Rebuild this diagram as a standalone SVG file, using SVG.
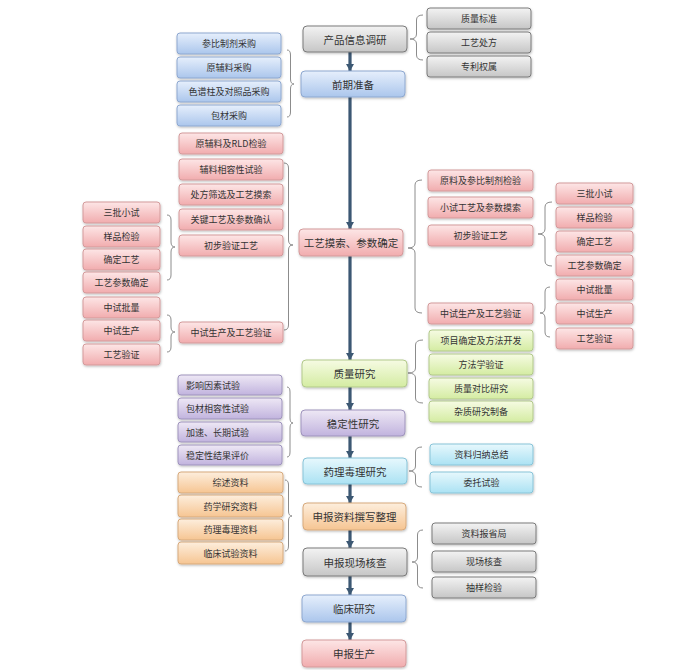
<svg xmlns="http://www.w3.org/2000/svg" width="678" height="670" viewBox="0 0 678 670">
<defs>
<linearGradient id="gGray" x1="0" y1="0" x2="0" y2="1"><stop offset="0" stop-color="#f3f3f3"/><stop offset="1" stop-color="#c6c6c6"/></linearGradient>
<linearGradient id="gBlue" x1="0" y1="0" x2="0" y2="1"><stop offset="0" stop-color="#e6effc"/><stop offset="1" stop-color="#abc6ec"/></linearGradient>
<linearGradient id="gPink" x1="0" y1="0" x2="0" y2="1"><stop offset="0" stop-color="#fde6e6"/><stop offset="1" stop-color="#f1acae"/></linearGradient>
<linearGradient id="gGreen" x1="0" y1="0" x2="0" y2="1"><stop offset="0" stop-color="#f6fbe3"/><stop offset="1" stop-color="#d4eca2"/></linearGradient>
<linearGradient id="gPurple" x1="0" y1="0" x2="0" y2="1"><stop offset="0" stop-color="#eee8f5"/><stop offset="1" stop-color="#c1b3de"/></linearGradient>
<linearGradient id="gCyan" x1="0" y1="0" x2="0" y2="1"><stop offset="0" stop-color="#e7f8fd"/><stop offset="1" stop-color="#abe2f3"/></linearGradient>
<linearGradient id="gOrange" x1="0" y1="0" x2="0" y2="1"><stop offset="0" stop-color="#fdeedd"/><stop offset="1" stop-color="#f6c592"/></linearGradient>
<marker id="ah" markerUnits="userSpaceOnUse" markerWidth="9" markerHeight="8" refX="7" refY="4" orient="auto"><path d="M0,0 L7,4 L0,8 z" fill="#3c5873"/></marker>
<filter id="sh" x="-10%" y="-20%" width="120%" height="150%"><feDropShadow dx="0.5" dy="1.2" stdDeviation="0.9" flood-color="#000" flood-opacity="0.25"/></filter>
</defs>
<style>
text{font-family:"Noto Sans CJK SC","Noto Sans",sans-serif;fill:#333;text-anchor:middle;dominant-baseline:central;font-size:9px}
.m text{font-size:10.5px}
.purple text{text-anchor:start}
.m.purple text{text-anchor:middle}
rect{filter:url(#sh)}
.gray rect{fill:url(#gGray);stroke:#7a7a7a;stroke-width:1}
.blue rect{fill:url(#gBlue);stroke:#8ea8d0;stroke-width:1}
.pink rect{fill:url(#gPink);stroke:#d39a9b;stroke-width:1}
.green rect{fill:url(#gGreen);stroke:#b2c98b;stroke-width:1}
.purple rect{fill:url(#gPurple);stroke:#9f94bd;stroke-width:1}
.cyan rect{fill:url(#gCyan);stroke:#88c4d8;stroke-width:1}
.orange rect{fill:url(#gOrange);stroke:#d7aa7d;stroke-width:1}
.brace{fill:none;stroke:#8c8c8c;stroke-width:1}
.arrow{stroke:#3c5873;stroke-width:3.2;fill:none;marker-end:url(#ah)}
</style>
<rect x="0" y="0" width="678" height="670" fill="#ffffff" style="filter:none"/>

<g id="connectors">
<line class="arrow" x1="350" y1="52" x2="350" y2="71"/>
<line class="arrow" x1="350" y1="97" x2="350" y2="229"/>
<line class="arrow" x1="350" y1="256" x2="350" y2="360"/>
<line class="arrow" x1="350" y1="387" x2="350" y2="410"/>
<line class="arrow" x1="350" y1="436" x2="350" y2="458"/>
<line class="arrow" x1="350" y1="484" x2="350" y2="503"/>
<line class="arrow" x1="350" y1="530" x2="350" y2="548"/>
<line class="arrow" x1="350" y1="576" x2="350" y2="595"/>
<line class="arrow" x1="350" y1="622" x2="350" y2="640"/>
<!-- braces -->
<path class="brace" d="M423,15 Q416.5,15 416.5,20 L416.5,34 Q416.5,39 410,39 Q416.5,39 416.5,44 L416.5,55 Q416.5,60 423,60"/>
<path class="brace" d="M287,50 Q290.5,50 290.5,55 L290.5,79 Q290.5,84 294,84 Q290.5,84 290.5,89 L290.5,112 Q290.5,117 287,117"/>
<path class="brace" d="M284,163 Q288.5,163 288.5,168 L288.5,240 Q288.5,245 293,245 Q288.5,245 288.5,250 L288.5,325 Q288.5,330 284,330"/>
<path class="brace" d="M167,215 Q171,215 171,220 L171,242 Q171,247 175,247 Q171,247 171,252 L171,275 Q171,280 167,280"/>
<path class="brace" d="M167,315 Q171,315 171,320 L171,327 Q171,332 175,332 Q171,332 171,337 L171,347 Q171,352 167,352"/>
<path class="brace" d="M422,180 Q415,180 415,185 L415,243 Q415,248 408,248 Q415,248 415,253 L415,308 Q415,313 422,313"/>
<path class="brace" d="M552,202 Q545,202 545,207 L545,229 Q545,234 538,234 Q545,234 545,239 L545,261 Q545,266 552,266"/>
<path class="brace" d="M550,287 Q545,287 545,292 L545,308 Q545,313 540,313 Q545,313 545,318 L545,332 Q545,337 550,337"/>
<path class="brace" d="M423,340 Q415.5,340 415.5,345 L415.5,368 Q415.5,373 408,373 Q415.5,373 415.5,378 L415.5,398 Q415.5,403 423,403"/>
<path class="brace" d="M287,387 Q290,387 290,392 L290,418 Q290,423 293,423 Q290,423 290,428 L290,452 Q290,457 287,457"/>
<path class="brace" d="M422,447 Q415.5,447 415.5,452 L415.5,466 Q415.5,471 409,471 Q415.5,471 415.5,476 L415.5,482 Q415.5,487 422,487"/>
<path class="brace" d="M285,480 Q288.5,480 288.5,485 L288.5,511 Q288.5,516 292,516 Q288.5,516 288.5,521 L288.5,546 Q288.5,551 285,551"/>
<path class="brace" d="M423,530 Q417.5,530 417.5,535 L417.5,557 Q417.5,562 412,562 Q417.5,562 417.5,567 L417.5,583 Q417.5,588 423,588"/>
</g>

<!-- main column -->
<g id="n-cpxxdy" class="m gray"><rect x="303" y="26" width="104" height="26" rx="4"/><text x="355" y="39">产品信息调研</text></g>
<g id="n-qqzb" class="m blue"><rect x="301" y="71" width="104" height="26" rx="4"/><text x="353" y="84">前期准备</text></g>
<g id="n-gymscsqd" class="m pink"><rect x="299" y="229" width="104" height="27" rx="4"/><text x="351" y="242.5">工艺摸索、参数确定</text></g>
<g id="n-zlyj" class="m green"><rect x="302" y="360" width="105" height="27" rx="4"/><text x="354.5" y="373.5">质量研究</text></g>
<g id="n-wdxyj" class="m purple"><rect x="301" y="410" width="104" height="26" rx="4"/><text x="353" y="423">稳定性研究</text></g>
<g id="n-yldlyj" class="m cyan"><rect x="303" y="458" width="104" height="26" rx="4"/><text x="355" y="471">药理毒理研究</text></g>
<g id="n-sbzlzxzl" class="m orange"><rect x="303" y="503" width="103" height="27" rx="4"/><text x="354.5" y="516.5">申报资料撰写整理</text></g>
<g id="n-sbxchc" class="m gray"><rect x="303" y="548" width="104" height="28" rx="4"/><text x="355" y="562">申报现场核查</text></g>
<g id="n-lcyj" class="m blue"><rect x="302" y="595" width="104" height="27" rx="4"/><text x="354" y="608.5">临床研究</text></g>
<g id="n-sbsc" class="m pink"><rect x="302" y="640" width="104" height="27" rx="4"/><text x="354" y="653.5">申报生产</text></g>

<!-- top right gray -->
<g id="n-zlbz" class="gray"><rect x="427" y="8" width="104" height="21" rx="3"/><text x="479" y="18.5">质量标准</text></g>
<g id="n-gycf" class="gray"><rect x="427" y="32" width="104" height="21" rx="3"/><text x="479" y="42.5">工艺处方</text></g>
<g id="n-zlqs" class="gray"><rect x="427" y="56" width="104" height="21" rx="3"/><text x="479" y="66.5">专利权属</text></g>

<!-- blue left -->
<g id="n-cbzjcg" class="blue"><rect x="177" y="33" width="104" height="21" rx="3"/><text x="229" y="43.5">参比制剂采购</text></g>
<g id="n-yflcg" class="blue"><rect x="177" y="57" width="104" height="21" rx="3"/><text x="229" y="67.5">原辅料采购</text></g>
<g id="n-spz" class="blue"><rect x="177" y="81" width="104" height="21" rx="3"/><text x="229" y="91.5">色谱柱及对照品采购</text></g>
<g id="n-bccg" class="blue"><rect x="177" y="105" width="104" height="21" rx="3"/><text x="229" y="115.5">包材采购</text></g>

<!-- pink middle -->
<g id="n-yflrld" class="pink"><rect x="179" y="133" width="104" height="21" rx="3"/><text x="231" y="143.5">原辅料及RLD检验</text></g>
<g id="n-flxrx" class="pink"><rect x="179" y="159" width="104" height="21" rx="3"/><text x="231" y="169.5">辅料相容性试验</text></g>
<g id="n-cfsx" class="pink"><rect x="179" y="184" width="104" height="21" rx="3"/><text x="231" y="194.5">处方筛选及工艺摸索</text></g>
<g id="n-gjgy" class="pink"><rect x="179" y="209" width="104" height="21" rx="3"/><text x="231" y="219.5">关键工艺及参数确认</text></g>
<g id="n-cbyzgy-l" class="pink"><rect x="179" y="235" width="104" height="21" rx="3"/><text x="231" y="245.5">初步验证工艺</text></g>
<g id="n-zssc-l" class="pink"><rect x="179" y="322" width="104" height="21" rx="3"/><text x="231" y="332.5">中试生产及工艺验证</text></g>

<!-- pink far left -->
<g id="n-sbxs-l" class="pink"><rect x="83" y="202" width="77" height="21" rx="3"/><text x="121.5" y="212.5">三批小试</text></g>
<g id="n-ypjy-l" class="pink"><rect x="83" y="226" width="77" height="21" rx="3"/><text x="121.5" y="236.5">样品检验</text></g>
<g id="n-qdgy-l" class="pink"><rect x="83" y="249" width="77" height="21" rx="3"/><text x="121.5" y="259.5">确定工艺</text></g>
<g id="n-gycsqd-l" class="pink"><rect x="83" y="272" width="77" height="21" rx="3"/><text x="121.5" y="282.5">工艺参数确定</text></g>
<g id="n-zspl-l" class="pink"><rect x="83" y="297" width="77" height="21" rx="3"/><text x="121.5" y="307.5">中试批量</text></g>
<g id="n-zsscb-l" class="pink"><rect x="83" y="320" width="77" height="21" rx="3"/><text x="121.5" y="330.5">中试生产</text></g>
<g id="n-gyyz-l" class="pink"><rect x="83" y="344" width="77" height="21" rx="3"/><text x="121.5" y="354.5">工艺验证</text></g>

<!-- pink right -->
<g id="n-ylcbjy" class="pink"><rect x="428" y="170" width="105" height="21" rx="3"/><text x="480.5" y="180.5">原料及参比制剂检验</text></g>
<g id="n-xsgy" class="pink"><rect x="428" y="197" width="105" height="21" rx="3"/><text x="480.5" y="207.5">小试工艺及参数摸索</text></g>
<g id="n-cbyzgy-r" class="pink"><rect x="428" y="225" width="105" height="21" rx="3"/><text x="480.5" y="235.5">初步验证工艺</text></g>
<g id="n-zssc-r" class="pink"><rect x="428" y="303" width="105" height="21" rx="3"/><text x="480.5" y="313.5">中试生产及工艺验证</text></g>

<!-- pink far right -->
<g id="n-sbxs-r" class="pink"><rect x="556" y="183" width="77" height="21" rx="3"/><text x="594.5" y="193.5">三批小试</text></g>
<g id="n-ypjy-r" class="pink"><rect x="556" y="207" width="77" height="21" rx="3"/><text x="594.5" y="217.5">样品检验</text></g>
<g id="n-qdgy-r" class="pink"><rect x="556" y="231" width="77" height="21" rx="3"/><text x="594.5" y="241.5">确定工艺</text></g>
<g id="n-gycsqd-r" class="pink"><rect x="556" y="255" width="77" height="21" rx="3"/><text x="594.5" y="265.5">工艺参数确定</text></g>
<g id="n-zspl-r" class="pink"><rect x="556" y="279" width="77" height="21" rx="3"/><text x="594.5" y="289.5">中试批量</text></g>
<g id="n-zsscb-r" class="pink"><rect x="556" y="303" width="77" height="21" rx="3"/><text x="594.5" y="313.5">中试生产</text></g>
<g id="n-gyyz-r" class="pink"><rect x="556" y="328" width="77" height="21" rx="3"/><text x="594.5" y="338.5">工艺验证</text></g>

<!-- green -->
<g id="n-xmqd" class="green"><rect x="429" y="330" width="104" height="21" rx="3"/><text x="481" y="340.5">项目确定及方法开发</text></g>
<g id="n-ffxyz" class="green"><rect x="429" y="354" width="104" height="21" rx="3"/><text x="481" y="364.5">方法学验证</text></g>
<g id="n-zldb" class="green"><rect x="429" y="378" width="104" height="21" rx="3"/><text x="481" y="388.5">质量对比研究</text></g>
<g id="n-zzyj" class="green"><rect x="429" y="401" width="104" height="21" rx="3"/><text x="481" y="411.5">杂质研究制备</text></g>

<!-- purple -->
<g id="n-yxys" class="purple"><rect x="178" y="375" width="104" height="20" rx="3"/><text x="186" y="385">影响因素试验</text></g>
<g id="n-bcxr" class="purple"><rect x="178" y="398" width="104" height="21" rx="3"/><text x="186" y="408.5">包材相容性试验</text></g>
<g id="n-jscq" class="purple"><rect x="178" y="422" width="104" height="20" rx="3"/><text x="186" y="432">加速、长期试验</text></g>
<g id="n-wdxjg" class="purple"><rect x="178" y="445" width="104" height="20" rx="3"/><text x="186" y="455">稳定性结果评价</text></g>

<!-- cyan -->
<g id="n-zlgn" class="cyan"><rect x="430" y="444" width="103" height="21" rx="3"/><text x="481.5" y="454.5">资料归纳总结</text></g>
<g id="n-wtsy" class="cyan"><rect x="430" y="472" width="103" height="21" rx="3"/><text x="481.5" y="482.5">委托试验</text></g>

<!-- orange -->
<g id="n-zszl" class="orange"><rect x="178" y="472" width="105" height="21" rx="3"/><text x="230.5" y="482.5">综述资料</text></g>
<g id="n-yxyjzl" class="orange"><rect x="178" y="495" width="105" height="22" rx="3"/><text x="230.5" y="506">药学研究资料</text></g>
<g id="n-yldlzl" class="orange"><rect x="178" y="519" width="105" height="21" rx="3"/><text x="230.5" y="529.5">药理毒理资料</text></g>
<g id="n-lcsyzl" class="orange"><rect x="178" y="542" width="105" height="22" rx="3"/><text x="230.5" y="553">临床试验资料</text></g>

<!-- gray lower -->
<g id="n-zlbsj" class="gray"><rect x="432" y="523" width="104" height="21" rx="3"/><text x="484" y="533.5">资料报省局</text></g>
<g id="n-xchc" class="gray"><rect x="432" y="551" width="104" height="21" rx="3"/><text x="484" y="561.5">现场核查</text></g>
<g id="n-cyjy" class="gray"><rect x="432" y="577" width="104" height="21" rx="3"/><text x="484" y="587.5">抽样检验</text></g>
</svg>
